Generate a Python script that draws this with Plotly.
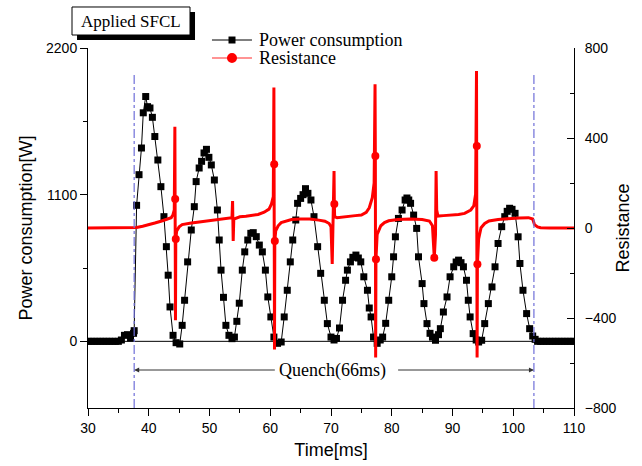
import plotly.graph_objects as go

# ---------------- data ----------------
power_t = [30.0, 30.5, 31.0, 31.5, 32.0, 32.5, 33.0, 33.5, 34.0, 34.5, 35.0,
           35.5, 36.0, 36.5, 37.0, 37.5, 37.6, 38.0, 38.4, 38.8, 39.1, 39.5, 39.8,
           40.2, 40.6, 41.0, 41.5, 42.0, 42.5, 42.9, 43.2, 43.5, 44.0, 44.5, 45.1,
           45.5, 45.9, 46.4, 47.0, 47.5, 47.8, 48.3, 48.7, 49.1, 49.5, 49.9, 50.3,
           50.8, 51.3, 51.6, 51.9, 52.3, 52.7, 53.2, 53.7, 54.1, 54.5, 54.9, 55.4,
           55.8, 56.3, 56.8, 57.2, 57.7, 58.2, 58.7, 59.2, 59.6, 60.1, 60.6, 61.2,
           61.8, 62.3, 62.8, 63.3, 63.7, 64.2, 64.5, 65.0, 65.4, 65.8, 66.2, 66.7,
           67.2, 67.8, 68.3, 68.9, 69.4, 70.0, 70.5, 70.9, 71.4, 71.9, 72.4, 72.7,
           73.2, 73.6, 74.1, 74.5, 74.9, 75.4, 76.0, 76.3, 76.6, 77.0, 77.6, 78.1,
           78.5, 79.0, 79.5, 80.0, 80.3, 80.6, 81.1, 81.7, 82.2, 82.5, 82.8, 83.1,
           83.6, 84.1, 84.4, 85.0, 85.3, 85.8, 86.3, 86.7, 87.2, 87.7, 88.0, 88.5,
           89.1, 89.6, 90.2, 90.6, 91.0, 91.4, 91.8, 92.3, 92.6, 92.9, 93.4, 93.9,
           94.3, 94.8, 95.3, 95.9, 96.5, 97.0, 97.5, 98.1, 98.6, 99.0, 99.4, 99.8,
           100.3, 100.8, 101.1, 101.6, 102.2, 102.7, 103.2, 103.6, 104.0, 104.5,
           105.0, 105.5, 106.0, 106.5, 107.0, 107.5, 108.0, 108.5, 109.0, 109.5, 110.0]
power_w = [0, 0, 0, 0, 0, 0, 0, 0, 0, 0, 0,
           10, 45, 50, 25, 60, 80, 1020, 1250, 1450, 1714, 1836, 1760,
           1750, 1680, 1536, 1360, 1160, 935, 710, 496, 258, 45, -10, -20,
           120, 308, 596, 835, 1010, 1198, 1300, 1350, 1413, 1440, 1380, 1323,
           1210, 985, 760, 534, 330, 120, 45, 20, 32, 150, 286, 534,
           671, 760, 810, 815, 785, 722, 671, 534, 333, 183, 32, -15,
           -5, 183, 383, 596, 760, 910, 1035, 1072, 1100, 1145, 1110, 1060,
           935, 710, 510, 308, 133, 32, 10, 22, 100, 308, 458, 534,
           596, 630, 647, 625, 596, 484, 383, 250, 183, 32, -15, 10,
           32, 135, 308, 484, 634, 784, 922, 985, 1060, 1075, 1060, 1035,
           947, 847, 634, 433, 283, 133, 60, 32, 8, 50, 95, 220,
           333, 484, 559, 595, 609, 590, 559, 458, 308, 183, 58, 10,
           -5, 8, 133, 283, 408, 559, 734, 860, 935, 975, 998, 990,
           960, 784, 584, 383, 208, 95, 40, 15, 0, 0,
           0, 0, 0, 0, 0, 0, 0, 0, 0, 0, 0]

res_t = [30, 31, 32, 33, 34, 35, 36, 37, 37.5, 38, 39, 40, 41, 42, 43, 43.7, 44.0, 44.2,
         44.3, 44.35, 44.4, 44.45, 44.6, 45.0, 45.5, 46, 47, 48, 49, 50, 51, 52, 53, 53.7,
         53.8, 53.9, 54.0, 55, 56, 57, 58, 59, 59.8, 60.2, 60.5,
         60.6, 60.65, 60.7, 60.75, 60.9, 61.3, 61.8, 62.5, 63.5, 65, 66.5, 68, 69, 69.7,
         70.0, 70.2, 70.4, 70.5, 70.55, 70.6, 71, 72, 73, 74, 75, 75.8, 76.3, 76.8, 77.1,
         77.25, 77.3, 77.35, 77.4, 77.6, 78.2, 78.8, 79.5, 81, 83, 85, 86.2, 86.7,
         87.0, 87.2, 87.3, 87.4, 87.6, 88.5, 90, 91, 92, 93, 93.5, 93.8,
         93.95, 94.0, 94.05, 94.1, 94.3, 94.7, 95.3, 96, 97.5, 99, 101, 102.5, 103.2,
         103.5, 104, 104.5, 105, 106, 107, 108, 109, 110]
res_v = [0, 0, 0, 0, 0, 0, 0, 0, 0, 2, 8, 14, 22, 30, 38, 46, 60, 80,
         450, 129, -410, -49, -13, 5, 15, 18, 22, 26, 30, 32, 35, 40, 44, 46,
         120, -58, 40, 50, 52, 55, 60, 70, 84, 107, 140,
         624, 283, -540, -58, -13, 10, 24, 30, 38, 40, 40, 35, 30, 20,
         5, -160, 60, 253, 107, 50, 46, 50, 52, 55, 58, 70, 90, 135, 200,
         639, 320, -576, -139, -28, 10, 24, 32, 38, 40, 38, 31, 10,
         -132, -30, 253, 80, 53, 55, 57, 60, 65, 80, 98, 150,
         698, 364, -576, -161, -49, 1, 20, 31, 38, 42, 45, 46, 40,
         15, 5, 1, 0, 0, 0, 0, 0, 0]
res_marker_t = [44.35, 44.45, 60.65, 60.75, 70.55, 77.3, 77.4, 87.0, 94.0, 94.1]

quench_start, quench_end = 37.6, 103.4
quench_label = "Quench(66ms)"
legend_names = ["Power consumption", "Resistance"]

# ---------------- figure ----------------
SERIF = "Liberation Serif, Times New Roman, serif"
SANS = "Liberation Sans, Arial, sans-serif"

res_mk_v = [res_v[res_t.index(t)] for t in res_marker_t]

fig = go.Figure()

# resistance (right axis)
fig.add_trace(go.Scatter(x=res_t, y=res_v, mode="lines", yaxis="y2",
                         line=dict(color="#ff0000", width=3),
                         showlegend=False, hoverinfo="skip"))
fig.add_trace(go.Scatter(x=res_marker_t, y=res_mk_v, mode="markers", yaxis="y2",
                         marker=dict(color="#ff0000", size=8, symbol="circle"),
                         showlegend=False))

# power (left axis)
fig.add_trace(go.Scatter(x=power_t, y=power_w, mode="lines+markers",
                         name=legend_names[0], showlegend=False,
                         line=dict(color="black", width=1),
                         marker=dict(color="black", size=7, symbol="square")))

# manual legend geometry (paper coords of the plot area)
lx0, lx1, lxm, ltx = 0.2551, 0.3374, 0.2963, 0.3477
ly1, ly2 = 1.0222, 0.9722
sq_w, sq_h = 0.0072, 0.0097      # half sizes of square marker
ci_w, ci_h = 0.0103, 0.0139      # half sizes of circle marker

shapes = [
    dict(type="line", xref="paper", yref="y", x0=0, x1=1, y0=0, y1=0,
         line=dict(color="black", width=1), layer="below"),
    dict(type="line", xref="x", yref="y", x0=quench_start, x1=quench_start, y0=-500, y1=2000,
         line=dict(color="#6f6fd8", width=1.2, dash="dashdot")),
    dict(type="line", xref="x", yref="y", x0=quench_end, x1=quench_end, y0=-500, y1=2020,
         line=dict(color="#6f6fd8", width=1.2, dash="dashdot")),
    # title box shadow and box
    dict(type="rect", xref="paper", yref="paper", x0=-0.0226, x1=0.2202, y0=1.0222, y1=1.10,
         fillcolor="black", line=dict(width=0)),
    dict(type="rect", xref="paper", yref="paper", x0=-0.0329, x1=0.2099, y0=1.0361, y1=1.1139,
         fillcolor="white", line=dict(color="black", width=1)),
    # legend symbols
    dict(type="line", xref="paper", yref="paper", x0=lx0, x1=lx1, y0=ly1, y1=ly1,
         line=dict(color="black", width=1)),
    dict(type="rect", xref="paper", yref="paper", x0=lxm - sq_w, x1=lxm + sq_w,
         y0=ly1 - sq_h, y1=ly1 + sq_h, fillcolor="black", line=dict(width=0)),
    dict(type="line", xref="paper", yref="paper", x0=lx0, x1=lx1, y0=ly2, y1=ly2,
         line=dict(color="#ff7070", width=1.5)),
    dict(type="circle", xref="paper", yref="paper", x0=lxm - ci_w, x1=lxm + ci_w,
         y0=ly2 - ci_h, y1=ly2 + ci_h, fillcolor="#ff0000", line=dict(width=0)),
]

annotations = [
    dict(text="Applied SFCL", xref="paper", yref="paper", x=0.0885, y=1.075,
         showarrow=False, font=dict(family=SERIF, size=17, color="black"),
         xanchor="center", yanchor="middle"),
    dict(text=legend_names[0], xref="paper", yref="paper", x=ltx, y=ly1, showarrow=False,
         font=dict(family=SERIF, size=18, color="black"), xanchor="left", yanchor="middle"),
    dict(text=legend_names[1], xref="paper", yref="paper", x=ltx, y=ly2, showarrow=False,
         font=dict(family=SERIF, size=18, color="black"), xanchor="left", yanchor="middle"),
    dict(text=quench_label, xref="x", yref="y", x=70.2, y=-215, showarrow=False,
         font=dict(family=SERIF, size=18, color="black"), xanchor="center", yanchor="middle"),
    dict(text="", xref="x", yref="y", x=quench_start, y=-215, axref="x", ayref="y",
         ax=61.0, ay=-215, showarrow=True, arrowhead=2, arrowsize=1, arrowwidth=1,
         arrowcolor="#333333", standoff=0, startstandoff=0),
    dict(text="", xref="x", yref="y", x=quench_end, y=-215, axref="x", ayref="y",
         ax=80.8, ay=-215, showarrow=True, arrowhead=2, arrowsize=1, arrowwidth=1,
         arrowcolor="#333333", standoff=0, startstandoff=0),
]

fig.update_layout(
    width=642, height=466,
    margin=dict(l=88, r=68, t=48, b=58, autoexpand=False),
    paper_bgcolor="white", plot_bgcolor="white",
    font=dict(family=SANS, size=14, color="black"),
    shapes=shapes, annotations=annotations,
    showlegend=False,
    xaxis=dict(range=[30, 110], dtick=10, tick0=30, showgrid=False, zeroline=False,
               showline=True, linecolor="black", linewidth=1, automargin=False,
               ticks="outside", ticklen=7, tickcolor="black",
               minor=dict(dtick=5, tick0=30, ticks="outside", ticklen=4, tickcolor="black"),
               title=dict(text="Time[ms]", font=dict(family=SANS, size=18), standoff=8),
               tickfont=dict(size=14)),
    yaxis=dict(range=[-500, 2200], tickvals=[0, 1100, 2200], showgrid=False, zeroline=False,
               showline=True, linecolor="black", linewidth=1, automargin=False,
               ticks="outside", ticklen=7, tickcolor="black",
               minor=dict(tickvals=[550, 1650], ticks="outside", ticklen=4, tickcolor="black"),
               title=dict(text="Power consumption[W]", font=dict(family=SANS, size=18), standoff=8),
               tickfont=dict(size=14)),
    yaxis2=dict(range=[-800, 800], tickvals=[-800, -400, 0, 400, 800], overlaying="y",
                side="right", showgrid=False, zeroline=False, automargin=False,
                showline=True, linecolor="black", linewidth=1,
                ticks="inside", ticklen=7, tickcolor="black", ticklabelstandoff=7,
                minor=dict(tickvals=[-600, -200, 200, 600], ticks="inside", ticklen=4,
                           tickcolor="black"),
                title=dict(text="Resistance", font=dict(family=SANS, size=18), standoff=0),
                tickfont=dict(size=14)),
)

fig.write_html("out.html", config={"displayModeBar": False},
               post_script="document.body.style.margin='0px';")
